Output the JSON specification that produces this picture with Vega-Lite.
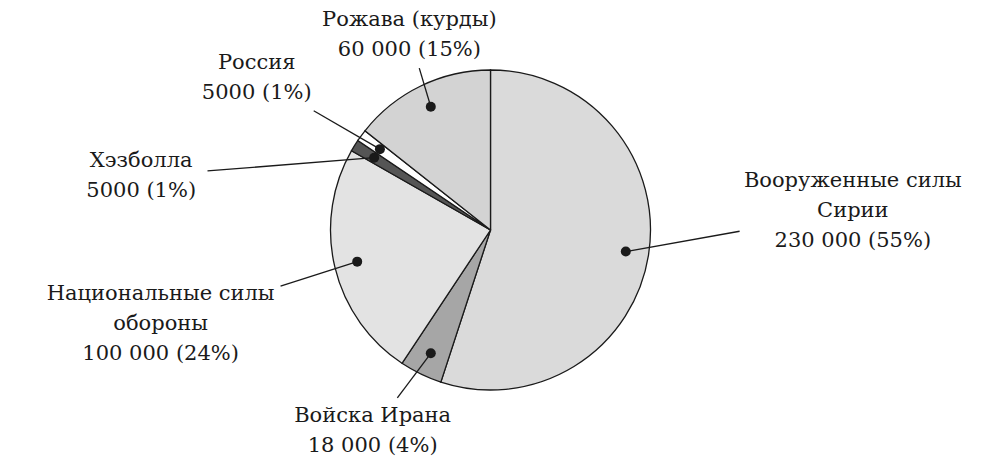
{
  "$schema": "https://vega.github.io/schema/vega-lite/v6.json",
  "width": 981,
  "height": 460,
  "autosize": {"type": "fit", "contains": "padding"},
  "padding": 0,
  "background": "#ffffff",
  "config": {"view": {"stroke": null}},
  "data": {
    "values": [
      {"name": "Вооруженные силы Сирии", "label": "Вооруженные силы\nСирии\n230 000 (55%)", "value": 230000},
      {"name": "Войска Ирана", "label": "Войска Ирана\n18 000 (4%)", "value": 18000},
      {"name": "Национальные силы обороны", "label": "Национальные силы\nобороны\n100 000 (24%)", "value": 100000},
      {"name": "Хэзболла", "label": "Хэзболла\n5000 (1%)", "value": 5000},
      {"name": "Россия", "label": "Россия\n5000 (1%)", "value": 5000},
      {"name": "Рожава (курды)", "label": "Рожава (курды)\n60 000 (15%)", "value": 60000}
    ]
  },
  "transform": [
    {"joinaggregate": [{"op": "sum", "field": "value", "as": "total"}]},
    {"window": [{"op": "sum", "field": "value", "as": "cum"}, {"op": "row_number", "as": "i"}], "frame": [null, 0]},
    {"calculate": "(datum.cum - datum.value / 2) / datum.total * 2 * PI", "as": "mid"},
    {"calculate": "datum.mid + (datum.name == 'Хэзболла' ? -15 : datum.name == 'Россия' ? 14 : datum.name == 'Рожава (курды)' ? 13 : datum.name == 'Вооруженные силы Сирии' ? -16 : datum.name == 'Национальные силы обороны' ? -12 : datum.name == 'Войска Ирана' ? -7 : 0) * PI / 180", "as": "la"},
    {"calculate": "137 * sin(datum.mid)", "as": "dx"},
    {"calculate": "137 * cos(datum.mid)", "as": "dy"},
    {"calculate": "365 * sin(datum.la)", "as": "lx"},
    {"calculate": "-6 + 206 * cos(datum.la)", "as": "ly"},
    {"calculate": "split(datum.label, '\\n')", "as": "parts"},
    {"calculate": "length(datum.parts)", "as": "nl"},
    {"calculate": "datum.ly + (datum.nl - 1) * 15", "as": "ty"},
    {"calculate": "max(length(datum.parts[0]), length(datum.parts[1]), datum.nl > 2 ? length(datum.parts[2]) : 0)", "as": "ml"},
    {"calculate": "datum.ml * 6.7 + 6", "as": "hw"},
    {"calculate": "datum.nl * 15 + 3", "as": "hh"},
    {"calculate": "datum.dx - datum.lx", "as": "vx"},
    {"calculate": "datum.dy - datum.ly", "as": "vy"},
    {"calculate": "min(abs(datum.vx) > 0 ? datum.hw / abs(datum.vx) : 1e9, abs(datum.vy) > 0 ? datum.hh / abs(datum.vy) : 1e9)", "as": "t"},
    {"calculate": "datum.lx + datum.t * datum.vx", "as": "ex"},
    {"calculate": "datum.ly + datum.t * datum.vy", "as": "ey"}
  ],
  "layer": [
    {
      "mark": {"type": "arc", "radius": 160, "stroke": "#1a1a1a", "strokeWidth": 1.3},
      "encoding": {
        "theta": {"field": "value", "type": "quantitative", "stack": true},
        "order": {"field": "i", "type": "quantitative"},
        "color": {
          "field": "name",
          "type": "nominal",
          "legend": null,
          "scale": {
            "domain": ["Вооруженные силы Сирии", "Войска Ирана", "Национальные силы обороны", "Хэзболла", "Россия", "Рожава (курды)"],
            "range": ["#dadada", "#a6a6a6", "#e3e3e3", "#555555", "#ffffff", "#d3d3d3"]
          }
        }
      }
    },
    {
      "mark": {"type": "rule", "stroke": "#1a1a1a", "strokeWidth": 1.3},
      "encoding": {
        "x": {"field": "dx", "type": "quantitative", "scale": {"domain": [-490.5, 490.5], "nice": false, "zero": false}, "axis": null},
        "y": {"field": "dy", "type": "quantitative", "scale": {"domain": [-230, 230], "nice": false, "zero": false}, "axis": null},
        "x2": {"field": "ex"},
        "y2": {"field": "ey"}
      }
    },
    {
      "mark": {"type": "point", "filled": true, "size": 100, "color": "#1a1a1a", "opacity": 1},
      "encoding": {
        "x": {"field": "dx", "type": "quantitative"},
        "y": {"field": "dy", "type": "quantitative"}
      }
    },
    {
      "mark": {"type": "text", "font": "DejaVu Serif", "fontSize": 21, "lineHeight": 30, "lineBreak": "\n", "align": "center", "baseline": "middle", "color": "#1a1a1a"},
      "encoding": {
        "x": {"field": "lx", "type": "quantitative"},
        "y": {"field": "ty", "type": "quantitative"},
        "text": {"field": "label"}
      }
    }
  ]
}
